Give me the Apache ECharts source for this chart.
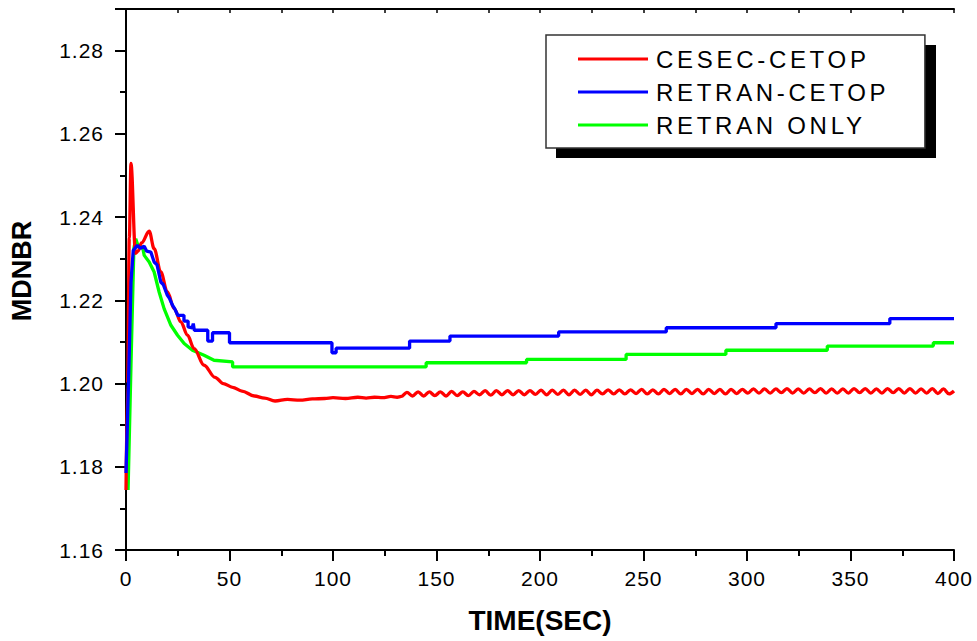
<!DOCTYPE html>
<html>
<head>
<meta charset="utf-8">
<script src="https://cdn.jsdelivr.net/npm/echarts@6/dist/echarts.min.js"></script>
<style>
  html, body { margin: 0; padding: 0; background: #fff; }
  #chart { width: 977px; height: 641px; }
</style>
</head>
<body>
<div id="chart"></div>
<script>
// MDNBR vs time — three code couplings

const seriesNames = ['CESEC-CETOP', 'RETRAN-CETOP', 'RETRAN ONLY']

// CESEC-CETOP: transient part as [time, mdnbr]
const cesecHead = [
  [0, 1.1744], [0.8, 1.2000], [1.6, 1.2350], [2.4, 1.2529], [4.6, 1.2313],
  [5.8, 1.2318], [7.5, 1.2338], [11.2, 1.2366], [13.6, 1.2324], [16.8, 1.2268],
  [20.0, 1.2220], [23.3, 1.2180], [26.5, 1.2148], [29.7, 1.2116], [32.9, 1.2084],
  [37.7, 1.2044], [43.0, 1.2015], [47.0, 1.2000], [51.5, 1.1991], [56.0, 1.1982],
  [62.0, 1.1970], [67.0, 1.1965], [72.0, 1.1958], [78.0, 1.1962], [84.0, 1.1960],
  [90.0, 1.1963], [96.0, 1.1964], [100.0, 1.1966], [106.0, 1.1964], [112.0, 1.1967],
  [116.0, 1.1965], [120.0, 1.1967], [124.0, 1.1966], [128.0, 1.1969], [131.0, 1.1967]
]
// CESEC-CETOP: oscillating tail (peaks / troughs)
const cesecTailT = [
  133.0, 135.7, 138.4, 141.1, 143.8, 146.5, 149.2, 151.9, 154.6, 157.3,
  160.0, 162.7, 165.4, 168.1, 170.8, 173.5, 176.2, 178.9, 181.6, 184.3,
  187.0, 189.7, 192.4, 195.1, 197.8, 200.5, 203.2, 205.9, 208.6, 211.3,
  214.0, 216.7, 219.4, 222.1, 224.8, 227.5, 230.2, 232.9, 235.6, 238.3,
  241.0, 243.7, 246.4, 249.1, 251.8, 254.5, 257.2, 259.9, 262.6, 265.3,
  268.0, 270.7, 273.4, 276.1, 278.8, 281.5, 284.2, 286.9, 289.6, 292.3,
  295.0, 297.7, 300.4, 303.1, 305.8, 308.5, 311.2, 313.9, 316.6, 319.3,
  322.0, 324.7, 327.4, 330.1, 332.8, 335.5, 338.2, 340.9, 343.6, 346.3,
  349.0, 351.7, 354.4, 357.1, 359.8, 362.5, 365.2, 367.9, 370.6, 373.3,
  376.0, 378.7, 381.4, 384.1, 386.8, 389.5, 392.2, 394.9, 397.6, 400.0
]
const cesecTailV = [
  1.1969, 1.1979, 1.1970, 1.1980, 1.1970, 1.1980, 1.1971, 1.1980, 1.1970, 1.1981,
  1.1971, 1.1980, 1.1971, 1.1981, 1.1973, 1.1983, 1.1972, 1.1983, 1.1973, 1.1983,
  1.1973, 1.1983, 1.1973, 1.1983, 1.1974, 1.1984, 1.1973, 1.1984, 1.1974, 1.1984,
  1.1973, 1.1984, 1.1974, 1.1984, 1.1973, 1.1984, 1.1975, 1.1985, 1.1975, 1.1985,
  1.1975, 1.1985, 1.1976, 1.1986, 1.1975, 1.1985, 1.1975, 1.1986, 1.1976, 1.1986,
  1.1975, 1.1986, 1.1976, 1.1986, 1.1975, 1.1986, 1.1976, 1.1986, 1.1975, 1.1986,
  1.1976, 1.1986, 1.1977, 1.1987, 1.1977, 1.1987, 1.1977, 1.1987, 1.1978, 1.1988,
  1.1977, 1.1987, 1.1977, 1.1987, 1.1978, 1.1988, 1.1977, 1.1987, 1.1977, 1.1987,
  1.1977, 1.1988, 1.1978, 1.1988, 1.1977, 1.1987, 1.1977, 1.1988, 1.1978, 1.1988,
  1.1977, 1.1988, 1.1977, 1.1987, 1.1977, 1.1988, 1.1976, 1.1987, 1.1975, 1.1982
]

// RETRAN-CETOP: staircase, repeated time = step edge
const retranCetop = [
  [0, 1.1785], [1.2, 1.2000], [2.4, 1.2243], [3.5, 1.2320], [5.5, 1.2332],
  [7.0, 1.2325], [8.8, 1.2330], [10.0, 1.2318], [12.0, 1.2316], [13.6, 1.2292],
  [15.0, 1.2285], [16.8, 1.2244], [18.0, 1.2238], [20.0, 1.2212], [21.0, 1.2205],
  [22.5, 1.2188], [23.5, 1.2180], [25.0, 1.2164], [28.0, 1.2164], [28.0, 1.2150],
  [30.0, 1.2150], [30.0, 1.2136], [32.0, 1.2134], [32.5, 1.2144], [33.0, 1.2128],
  [39.5, 1.2128], [39.5, 1.2102], [41.8, 1.2102], [41.8, 1.2122], [50.0, 1.2122],
  [50.0, 1.2098], [99.5, 1.2098], [99.5, 1.2074], [101.5, 1.2074], [101.5, 1.2085],
  [137.0, 1.2085], [137.0, 1.2102], [156.5, 1.2102], [156.5, 1.2114], [209.0, 1.2114],
  [209.0, 1.2124], [261.0, 1.2124], [261.0, 1.2134], [314.0, 1.2134], [314.0, 1.2144],
  [369.0, 1.2144], [369.0, 1.2156], [400.0, 1.2156]
]

// RETRAN ONLY
const retranOnly = [
  [1.0, 1.1744], [2.4, 1.2044], [3.8, 1.2325], [4.7, 1.2348], [6.0, 1.2328],
  [8.0, 1.2328], [8.8, 1.2308], [11.2, 1.2292], [13.6, 1.2268], [16.0, 1.2220],
  [18.4, 1.2180], [21.7, 1.2140], [24.9, 1.2116], [28.1, 1.2096], [32.1, 1.2080],
  [37.7, 1.2068], [42.5, 1.2056], [51.5, 1.2052], [51.5, 1.2040], [145.0, 1.2040],
  [145.0, 1.2050], [193.5, 1.2050], [193.5, 1.2058], [241.6, 1.2058], [241.6, 1.2070],
  [289.8, 1.2070], [289.8, 1.2080], [338.8, 1.2080], [338.8, 1.2090], [390.0, 1.2090],
  [390.0, 1.2098], [400.0, 1.2098]
]

const cesec = cesecHead.concat(cesecTailT.map((t, i) => [t, cesecTailV[i]]))

const FONT = '"Liberation Sans", Arial, sans-serif'
const axisLine = { lineStyle: { color: '#000', width: 2 } }
const el = document.getElementById('chart')

const chart = echarts.init(el, null, { renderer: 'svg' })
chart.setOption({
  animation: false,
  backgroundColor: '#fff',
  grid: { left: 123, right: 23, top: 9, bottom: 91 },
  // drop shadow behind the legend box
  graphic: [
    { type: 'rect', left: 556, top: 45, z: 1, silent: true,
      shape: { width: 380, height: 113 }, style: { fill: '#000' } }
  ],
  legend: {
    orient: 'vertical',
    left: 546, top: 35, z: 5,
    data: seriesNames,
    icon: 'rect',
    padding: [12, 80, 11, 32],
    itemWidth: 70, itemHeight: 3, itemGap: 9,
    backgroundColor: '#fff',
    borderColor: '#333', borderWidth: 1.5,
    textStyle: { fontFamily: FONT, fontSize: 24, lineHeight: 24, color: '#000', padding: [0, 0, 0, 3] }
  },
  xAxis: [
    { type: 'value', min: 0, max: 400, interval: 50,
      name: 'TIME(SEC)', nameLocation: 'middle', nameGap: 56,
      nameTextStyle: { fontFamily: FONT, fontSize: 28, fontWeight: 'bold', color: '#000' },
      axisLine, splitLine: { show: false },
      axisTick: { length: 11, lineStyle: { width: 2, color: '#000' } },
      minorTick: { show: true, splitNumber: 2, length: 6, lineStyle: { width: 2, color: '#000' } },
      axisLabel: { fontFamily: FONT, fontSize: 21, color: '#000', margin: 18 } },
    { type: 'value', position: 'top', min: 0, max: 400, interval: 50,
      axisLine, splitLine: { show: false }, axisLabel: { show: false },
      axisTick: { inside: true, length: 4, lineStyle: { width: 1.5, color: '#000' } },
      minorTick: { show: true, splitNumber: 2, length: 4, lineStyle: { width: 1.5, color: '#000' } } }
  ],
  yAxis: [
    { type: 'value', min: 1.16, max: 1.29, interval: 0.02,
      name: 'MDNBR', nameLocation: 'middle', nameGap: 91,
      nameTextStyle: { fontFamily: FONT, fontSize: 27, fontWeight: 'bold', color: '#000',
                       padding: [0, 0, 0, 17] },
      axisLine, splitLine: { show: false },
      axisTick: { length: 11, lineStyle: { width: 2, color: '#000' } },
      minorTick: { show: true, splitNumber: 2, length: 6, lineStyle: { width: 2, color: '#000' } },
      axisLabel: { fontFamily: FONT, fontSize: 21, color: '#000', margin: 22, showMaxLabel: false,
                   formatter: (v) => v.toFixed(2) } },
    { type: 'value', position: 'right', min: 1.16, max: 1.29, interval: 0.02,
      axisLine, splitLine: { show: false }, axisLabel: { show: false },
      axisTick: { inside: true, length: 4, lineStyle: { width: 1.5, color: '#000' } },
      minorTick: { show: true, splitNumber: 2, length: 4, lineStyle: { width: 1.5, color: '#000' } } }
  ],
  series: [
    { name: 'CESEC-CETOP', type: 'line', data: cesec, symbol: 'none', z: 3,
      smooth: 0.35, smoothMonotone: 'x',
      lineStyle: { color: '#ff0000', width: 3.3 }, itemStyle: { color: '#ff0000' } },
    { name: 'RETRAN-CETOP', type: 'line', data: retranCetop, symbol: 'none', z: 4,
      lineStyle: { color: '#0000ff', width: 3.3 }, itemStyle: { color: '#0000ff' } },
    { name: 'RETRAN ONLY', type: 'line', data: retranOnly, symbol: 'none', z: 2,
      lineStyle: { color: '#00ff00', width: 3.3 }, itemStyle: { color: '#00ff00' } }
  ]
})

// the original typesetting is letter-spaced; widen legend and tick texts to match
el.querySelectorAll('svg text').forEach((t) => {
  const s = t.textContent
  if (seriesNames.includes(s)) t.style.letterSpacing = '3.7px'
  else if (/^[\d.]+$/.test(s)) t.style.letterSpacing = '1px'
})
</script>
</body>
</html>
